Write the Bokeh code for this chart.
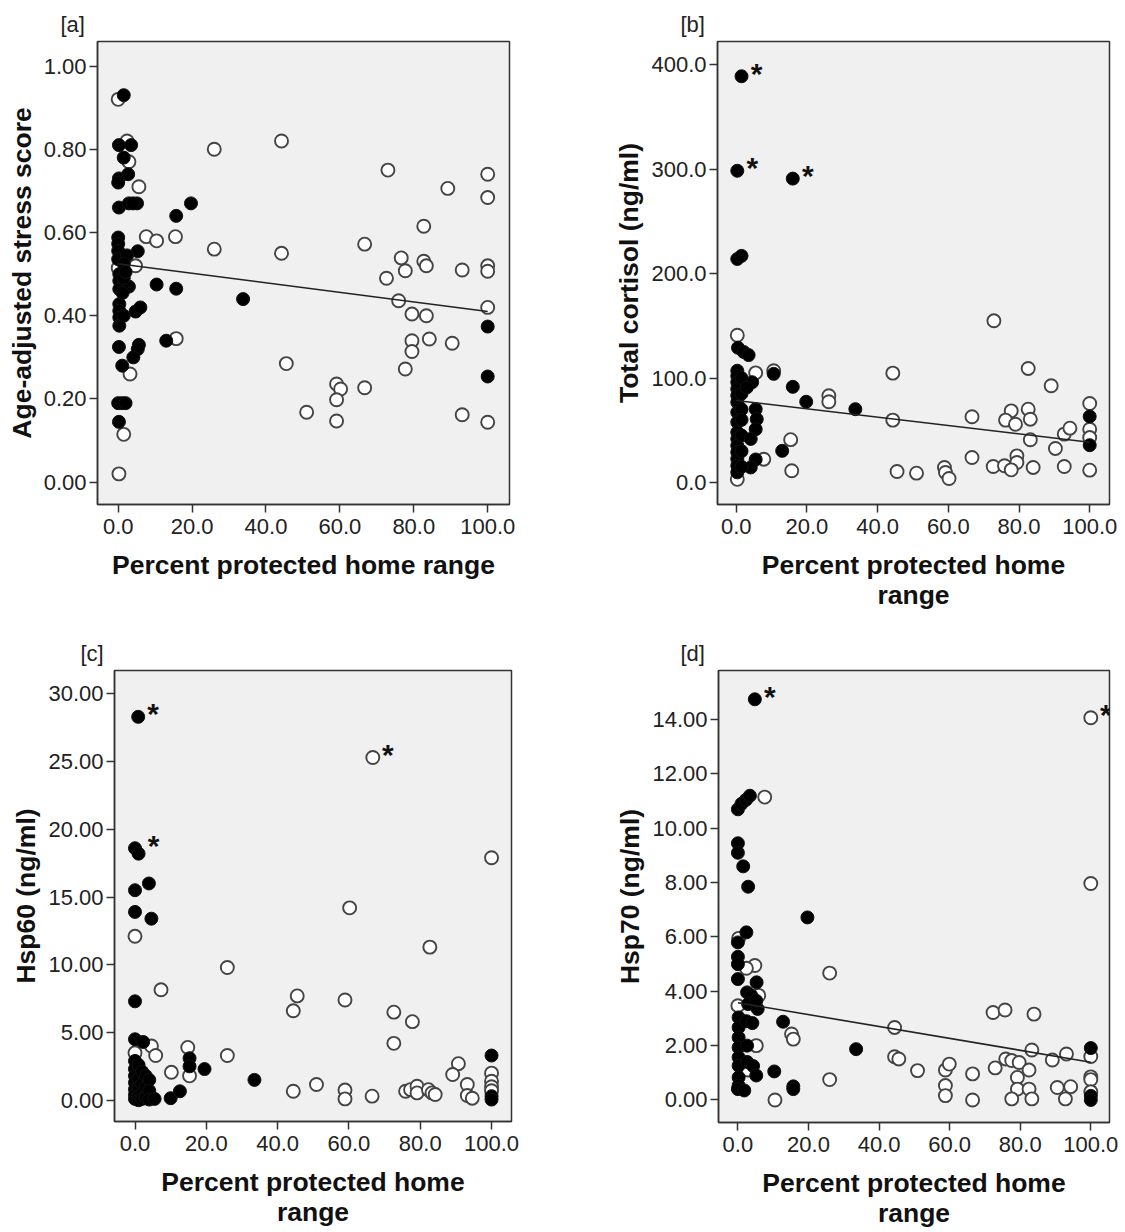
from bokeh.plotting import figure
from bokeh.models import Range1d, FixedTicker, NumeralTickFormatter, Title
from bokeh.layouts import column, row
from bokeh.core.properties import value
from bokeh.embed import file_html
from bokeh.resources import INLINE

# ---------------- data ----------------
x_ticks = [0, 20, 40, 60, 80, 100]

# [a] Age-adjusted stress score
a_fill_x = [1.5, 0.2, 3.5, 1.5, 0.2, 0.0, 2.7, 0.2, 2.9, 5.1, 4.0, 19.7, 15.7,
            0.0, 0.0, 0.0, 0.0, 0.3, 0.3, 0.3, 0.3, 0.3, 0.3, 0.3,
            5.3, 2.4, 2.9, 1.5, 10.4, 15.7, 33.8, 4.7, 6.0, 1.5, 0.2, 5.6, 5.3, 13.0,
            4.1, 1.1, 0.0, 1.1, 2.0, 0.2, 100, 100, 1.5, 1.2, 2.0]
a_fill_y = [0.93, 0.81, 0.81, 0.78, 0.73, 0.72, 0.74, 0.66, 0.67, 0.67, 0.67, 0.67, 0.64,
            0.588, 0.573, 0.556, 0.536, 0.50, 0.484, 0.464, 0.428, 0.412, 0.396, 0.376,
            0.555, 0.545, 0.47, 0.49, 0.475, 0.465, 0.44, 0.41, 0.42, 0.40, 0.325, 0.33, 0.32, 0.34,
            0.30, 0.28, 0.19, 0.19, 0.19, 0.145, 0.374, 0.254, 0.525, 0.455, 0.505]
a_open_x = [0.0, 2.4, 2.9, 5.6, 26, 44.2, 7.6, 10.4, 15.5, 26, 44.2, 4.7, 0.0, 15.7, 3.2,
            1.5, 0.2, 45.5, 51, 59.1, 60.2, 59.1, 59.1, 66.7, 66.7, 73, 72.6, 75.9, 76.6,
            77.7, 79.5, 79.5, 79.5, 77.7, 82.7, 82.7, 83.4, 83.4, 84.2, 89.2, 90.4, 93.1,
            93.1, 100, 100, 100, 100, 100, 100]
a_open_y = [0.92, 0.82, 0.77, 0.71, 0.80, 0.82, 0.59, 0.58, 0.59, 0.56, 0.55, 0.52, 0.515,
            0.345, 0.26, 0.115, 0.02, 0.285, 0.168, 0.236, 0.224, 0.198, 0.147, 0.227,
            0.572, 0.75, 0.49, 0.436, 0.539, 0.508, 0.404, 0.34, 0.314, 0.272, 0.615,
            0.531, 0.52, 0.40, 0.344, 0.706, 0.334, 0.51, 0.162, 0.74, 0.684, 0.52, 0.507,
            0.42, 0.144]
a_fit_x = [0, 100]
a_fit_y = [0.525, 0.41]
a_y_ticks = [0.0, 0.2, 0.4, 0.6, 0.8, 1.0]

# [b] Total cortisol (ng/ml)
b_fill_x = [1.5, 0.3, 16, 0.3, 1.5, 0.5, 2.1, 3.5, 10.6, 16, 19.8, 33.7, 13, 5.5, 4.1,
            0.3, 0.3, 0.3, 0.3, 0.3, 0.3, 0.3, 0.3, 0.3, 0.3, 0.3, 0.3, 0.3, 0.3, 0.3,
            1.5, 1.5, 1.5, 1.5, 1.5, 1.5, 1.5,
            4.5, 3.0, 5.5, 5.8, 5.5, 4.1, 100, 100]
b_fill_y = [389, 298.5, 291, 214, 217, 129, 125, 122, 104, 91.6, 77.3, 70.2, 30.3, 22, 14.4,
            107, 102, 96, 89.6, 83.2, 76.8, 67.2, 57.7, 48.1, 41.7, 35.3, 28.9, 22.5, 16.1, 9.7,
            100, 85, 70, 60, 45, 30, 15,
            96, 91, 70.2, 60.6, 51, 41.7, 63.2, 35.7]
b_open_x = [0.3, 5.5, 10.6, 26.2, 26.2, 15.4, 15.7, 7.8, 0.3, 44.3, 44.3, 45.5, 51, 58.9,
            59.2, 60.2, 66.7, 66.7, 72.9, 72.7, 75.9, 77.8, 76.2, 79, 79.4, 79.4, 77.8,
            82.6, 82.6, 83.2, 83.2, 84, 89.1, 90.3, 92.8, 94.4, 92.8, 100, 100, 100, 100]
b_open_y = [141, 105, 107, 83, 77.3, 41, 11.2, 22.3, 3, 104.7, 59.7, 10.5, 8.9, 14.4,
            9.6, 3.8, 62.9, 23.9, 154.8, 15.3, 16, 68.6, 59.7, 55.8, 25.5, 19.1, 12.1,
            109.2, 70.2, 60.6, 40.9, 14.4, 92.6, 32.6, 46.3, 52, 15.3, 75.6, 51, 43, 11.8]
b_star_x = [1.5, 0.3, 16]
b_star_y = [389, 298.5, 291]
b_fit_x = [0, 100]
b_fit_y = [78.5, 38.5]
b_y_ticks = [0, 100, 200, 300, 400]

# [c] Hsp60 (ng/ml)
c_fill_x = [0.9, 0, 1, 0, 3.9, 0, 4.6, 0, 0, 2.3, 15.3, 15.3, 19.5, 33.5, 10, 12.6,
            0, 0, 0, 0, 0, 0, 0, 1, 1, 1, 1, 1, 2, 2, 2, 2, 3, 3, 3, 4, 4, 4, 5.5,
            100, 100, 100]
c_fill_y = [28.3, 18.6, 18.2, 15.5, 16, 13.9, 13.4, 7.3, 4.5, 4.3, 3.1, 2.5, 2.3, 1.5, 0.15, 0.66,
            2.9, 2.3, 1.8, 1.3, 0.8, 0.4, 0.1, 2.6, 1.6, 0.9, 0.3, 0.0, 2.1, 1.2, 0.5, 0.1,
            1.8, 1.0, 0.2, 1.5, 0.7, 0.05, 0.1,
            3.3, 0.3, 0.05]
c_open_x = [0, 25.9, 7.3, 4.6, 5.8, 0, 14.8, 15.3, 10.2, 25.9, 1.5, 66.7, 100, 60.2, 82.7,
            45.5, 44.4, 58.9, 72.6, 77.8, 72.6, 44.4, 50.9, 58.9, 58.9, 66.5, 75.9, 77.3,
            79.1, 79.1, 82.3, 83.3, 84.2, 90.7, 89.1, 93.2, 93.2, 94.6, 100, 100, 100, 100]
c_open_y = [12.1, 9.8, 8.15, 4.0, 3.3, 3.5, 3.9, 1.8, 2.06, 3.3, 0.2, 25.3, 17.9, 14.2, 11.3,
            7.7, 6.6, 7.4, 6.5, 5.8, 4.2, 0.66, 1.16, 0.75, 0.1, 0.3, 0.66, 0.78,
            1.03, 0.54, 0.78, 0.54, 0.42, 2.7, 1.9, 1.16, 0.35, 0.15, 2.0, 1.4, 1.0, 0.7]
c_star_x = [0.9, 1, 66.7]
c_star_y = [28.3, 18.6, 25.3]
c_y_ticks = [0, 5, 10, 15, 20, 25, 30]

# [d] Hsp70 (ng/ml)
d_fill_x = [4.8, 0, 1, 2.3, 3.4, 0, 0, 1.5, 2.9, 19.7, 2.4, 0, 0, 0, 0, 5.3, 2.6, 3.8, 2.9,
            5.6, 5.2, 0.2, 0.2, 0.2, 0.2, 0.2, 0.2, 0.2, 0.2, 2.4, 4.1, 2.6, 2.6, 4.3, 5.2,
            0, 1.8, 12.8, 10.3, 15.7, 15.7, 33.5, 100, 100, 100]
d_fill_y = [14.75, 10.7, 10.9, 11.05, 11.2, 9.45, 9.1, 8.6, 7.85, 6.72, 6.17, 5.8, 5.27, 5.0,
            4.45, 4.33, 3.96, 3.84, 3.53, 3.35, 3.65, 3.04, 2.67, 2.3, 1.93, 1.57, 1.26, 0.83,
            0.53, 2.9, 2.83, 2.0, 1.4, 1.25, 0.9, 0.4, 0.35, 2.88, 1.05, 0.5, 0.4, 1.87,
            1.91, 0.15, 0.0]
d_open_x = [7.6, 0.2, 4.8, 2.4, 26, 5.9, 0, 5.2, 2.9, 15.2, 15.7, 10.5, 26, 100, 100, 44.4,
            44.4, 45.6, 50.9, 58.8, 59.9, 58.8, 58.8, 66.5, 66.5, 72.3, 75.7, 72.9, 75.9,
            77.6, 79.7, 79.2, 79.2, 77.6, 83.9, 83.3, 82.5, 82.5, 83.3, 89.1, 93.1, 90.5,
            94.3, 92.8, 100, 100, 100, 100]
d_open_y = [11.15, 5.95, 4.95, 4.85, 4.67, 3.85, 3.47, 2.0, 1.1, 2.43, 2.24, 0.0, 0.75, 14.07,
            7.97, 2.67, 1.59, 1.51, 1.08, 1.1, 1.32, 0.53, 0.16, 0.96, 0.0, 3.22, 3.31, 1.18,
            1.51, 1.45, 1.38, 0.83, 0.4, 0.04, 3.16, 1.84, 1.1, 0.4, 0.04, 1.47, 1.69, 0.46,
            0.49, 0.04, 1.6, 0.85, 0.75, 0.3]
d_star_x = [4.8, 100]
d_star_y = [14.75, 14.07]
d_fit_x = [0, 100]
d_fit_y = [3.58, 1.39]
d_y_ticks = [0, 2, 4, 6, 8, 10, 12, 14]

X_LABEL = "Percent protected home range"
X_LABEL_2 = "Percent protected home\nrange"

FONT = "Liberation Sans"


def panel(tag, tag_offset, xr, yr, left, fw, right, top, fh, bottom,
          fill_x, fill_y, open_x, open_y, y_ticks, y_fmt, y_label, x_label,
          fit=None, stars=None):
    p = figure(frame_width=fw, frame_height=fh, min_border_left=left,
               min_border_right=right, min_border_top=top, min_border_bottom=bottom,
               x_range=Range1d(*xr), y_range=Range1d(*yr),
               output_backend="svg", toolbar_location=None)
    p.title = Title(text=tag, align="left", offset=tag_offset, text_font=FONT,
                    text_font_size="22px", text_font_style="normal",
                    text_color="#222222", standoff=9)
    p.background_fill_color = "#f0f0f0"
    p.border_fill_color = "white"
    p.outline_line_color = "#333333"
    p.outline_line_width = 1.5
    p.grid.visible = False
    for ax in (p.xaxis[0], p.yaxis[0]):
        ax.axis_line_color = "#333333"
        ax.axis_line_width = 1.5
        ax.major_tick_line_color = "#333333"
        ax.major_tick_line_width = 1.5
        ax.major_tick_out = 8
        ax.major_tick_in = 0
        ax.minor_tick_line_color = None
        ax.major_label_text_font = FONT
        ax.major_label_text_font_size = "22px"
        ax.major_label_text_color = "#222222"
        ax.axis_label_text_font = FONT
        ax.axis_label_text_font_size = "26.5px"
        ax.axis_label_text_font_style = "bold"
        ax.axis_label_text_color = "#111111"
        ax.axis_label_text_line_height = 1.0
    p.xaxis.ticker = FixedTicker(ticks=x_ticks)
    p.xaxis.formatter = NumeralTickFormatter(format="0.0")
    p.yaxis.ticker = FixedTicker(ticks=y_ticks)
    p.yaxis.formatter = NumeralTickFormatter(format=y_fmt)
    p.xaxis.axis_label = x_label
    p.yaxis.axis_label = y_label
    p.xaxis.major_label_standoff = 6
    p.yaxis.major_label_standoff = 3
    p.xaxis.axis_label_standoff = 13
    p.yaxis.axis_label_standoff = 4

    p.scatter(open_x, open_y, size=13, fill_color="white", line_color="#444444",
              line_width=1.9)
    p.scatter(fill_x, fill_y, size=13, fill_color="black", line_color="#111111",
              line_width=1)
    if fit is not None:
        p.line(fit[0], fit[1], line_color="#222222", line_width=1.6)
    if stars is not None:
        p.text(stars[0], stars[1], text=["*"] * len(stars[0]), x_offset=15, y_offset=-3,
               text_font=value(FONT), text_font_style="bold", text_font_size="30px",
               text_align="center", text_baseline="middle", text_color="#111111")
    return p


pa = panel("[a]", -37, (-5.6, 105.9), (-0.0536, 1.059),
           97, 412, 53, 41, 463, 116,
           a_fill_x, a_fill_y, a_open_x, a_open_y, a_y_ticks, "0.00",
           "Age-adjusted stress score", X_LABEL, fit=(a_fit_x, a_fit_y))
pb = panel("[b]", -37, (-5.3, 105.6), (-21.1, 422.3),
           155, 392, 16, 39, 463, 118,
           b_fill_x, b_fill_y, b_open_x, b_open_y, b_y_ticks, "0.0",
           "Total cortisol (ng/ml)", X_LABEL_2, fit=(b_fit_x, b_fit_y),
           stars=(b_star_x, b_star_y))
pc = panel("[c]", -34, (-5.75, 105.6), (-1.57, 31.72),
           114, 397, 51, 50, 451, 111,
           c_fill_x, c_fill_y, c_open_x, c_open_y, c_y_ticks, "0.00",
           "Hsp60 (ng/ml)", X_LABEL_2, stars=(c_star_x, c_star_y))
pd_ = panel("[d]", -38, (-5.5, 105.3), (-0.83, 15.81),
            156, 391, 16, 49, 452, 111,
            d_fill_x, d_fill_y, d_open_x, d_open_y, d_y_ticks, "0.00",
            "Hsp70 (ng/ml)", X_LABEL_2, fit=(d_fit_x, d_fit_y),
            stars=(d_star_x, d_star_y))

layout = column(row(pa, pb, spacing=0), row(pc, pd_, spacing=0), spacing=0)
open("out.html", "w").write(file_html(layout, INLINE))
